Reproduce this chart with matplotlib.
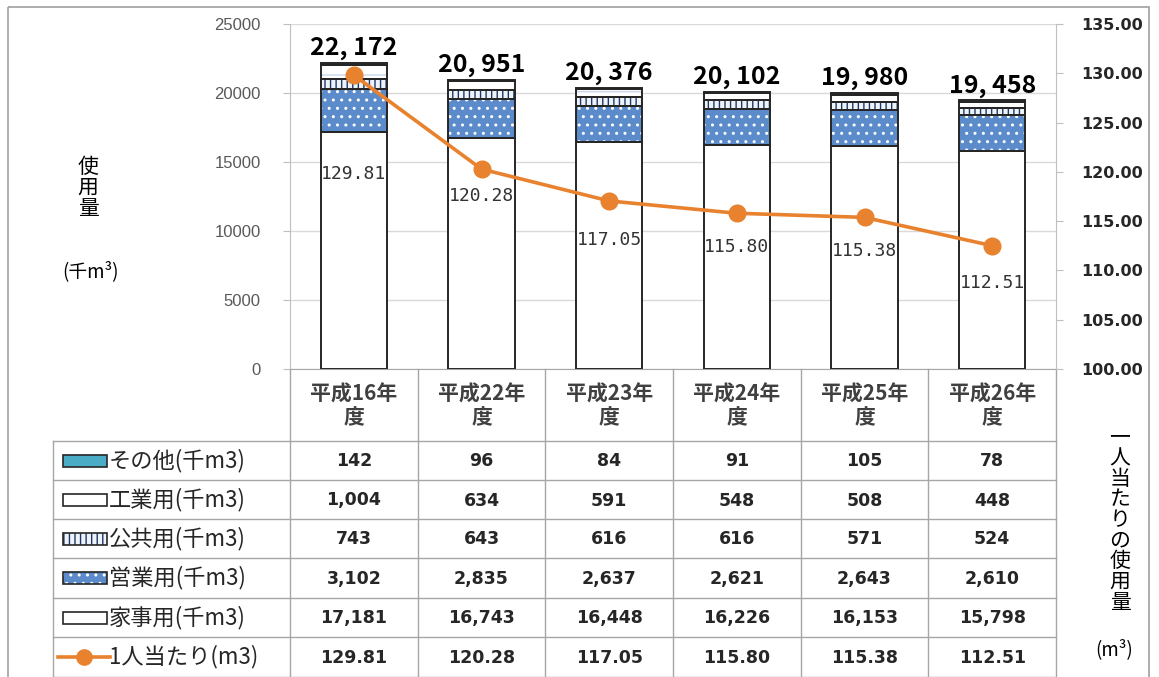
import numpy as np
import matplotlib
matplotlib.use("Agg")
import matplotlib.pyplot as plt
from matplotlib.patches import Rectangle
from matplotlib.lines import Line2D

plt.rcParams["font.family"] = ["Noto Sans CJK JP", "DejaVu Sans"]
plt.rcParams["hatch.linewidth"] = 1.0

# ── data ─────────────────────────────────────────────────────────────────────
years = ["平成16年\n度", "平成22年\n度", "平成23年\n度", "平成24年\n度", "平成25年\n度", "平成26年\n度"]
kaji    = [17181, 16743, 16448, 16226, 16153, 15798]   # 家事用
eigyo   = [3102, 2835, 2637, 2621, 2643, 2610]         # 営業用
kokyo   = [743, 643, 616, 616, 571, 524]               # 公共用
kogyo   = [1004, 634, 591, 548, 508, 448]              # 工業用
sonota  = [142, 96, 84, 91, 105, 78]                   # その他
per_cap = [129.81, 120.28, 117.05, 115.80, 115.38, 112.51]
totals  = [22172, 20951, 20376, 20102, 19980, 19458]

# ── style ────────────────────────────────────────────────────────────────────
ORANGE = "#E8822E"
BLUE   = "#5B8BCB"
TEAL   = "#4BACC6"
GRID   = "#D9D9D9"
TLINE  = "#A6A6A6"
W, H = 1159, 677

fig = plt.figure(figsize=(W / 100, H / 100), dpi=100, facecolor="white")

# overlay axes in pixel coords for the data table and the frame
tax = fig.add_axes([0, 0, 1, 1])
tax.set_xlim(0, W)
tax.set_ylim(H, 0)
tax.axis("off")

L, R, T, B = 290, 1056, 24, 369
ax = fig.add_axes([L / W, 1 - B / H, (R - L) / W, (B - T) / H])
ax.set_facecolor("none")
x = np.arange(len(years))
bw = 0.52

# series: (values, face, hatch, hatch colour, legend label)
series = [
    (kaji,   "white",   None,  "white",   "家事用(千m3)"),
    (eigyo,  BLUE,      "..",  "white",   "営業用(千m3)"),
    (kokyo,  "#EEF3FA", "|||", "#1F3864", "公共用(千m3)"),
    (kogyo,  "white",   "-",   "#C9D6EA", "工業用(千m3)"),
    (sonota, TEAL,      None,  TEAL,      "その他(千m3)"),
]
bottom = np.zeros(len(years))
for vals, face, hatch, hc, lab in series:
    ax.bar(x, vals, bw, bottom=bottom, color=face, edgecolor=hc,
           hatch=hatch, linewidth=0, zorder=2)
    ax.bar(x, vals, bw, bottom=bottom, facecolor="none",
           edgecolor="#262626", linewidth=1.4, zorder=3)
    bottom += np.array(vals)

for xi, tot in zip(x, totals):
    ax.annotate(f"{tot:,}".replace(",", ", "), (xi, tot), xytext=(0, 2),
                textcoords="offset points", ha="center", va="bottom",
                fontsize=18, fontweight="bold", color="black")

ax.set_xlim(-0.5, len(years) - 0.5)
ax.set_ylim(0, 25000)
ax.set_yticks(np.arange(0, 25001, 5000))
ax.yaxis.grid(True, color=GRID, linewidth=1)
ax.set_axisbelow(True)
ax.set_xticks([])
for s in ["top", "right"]:
    ax.spines[s].set_visible(False)
ax.spines["left"].set_color("#BFBFBF")
ax.spines["bottom"].set_color(TLINE)
ax.tick_params(axis="y", length=5, color="#BFBFBF", pad=16,
               labelsize=12, labelcolor="#595959")
for t in ax.get_yticklabels():
    t.set_family(["Liberation Sans", "DejaVu Sans"])

# per-capita line on the right axis
ax2 = ax.twinx()
ax2.plot(x, per_cap, color=ORANGE, linewidth=2.6, marker="o",
         markersize=12, zorder=5)
ax2.set_ylim(100, 135)
ax2.set_yticks(np.arange(100, 135.01, 5))
ax2.set_yticklabels([f"{v:.2f}" for v in np.arange(100, 135.01, 5)])
for s in ["top", "left", "bottom"]:
    ax2.spines[s].set_visible(False)
ax2.spines["right"].set_color("#BFBFBF")
ax2.tick_params(axis="y", length=5, color="#BFBFBF", pad=13, labelsize=11.5)
for t in ax2.get_yticklabels():
    t.set_fontweight("bold")
    t.set_family(["DejaVu Sans"])
    t.set_color("#262626")

label_drop = [99, 27, 39, 34, 34, 37]
for xi, v, d in zip(x, per_cap, label_drop):
    ax2.annotate(f"{v:.2f}", (xi, v), xytext=(0, -d * 0.72),
                 textcoords="offset points", ha="center", va="center",
                 fontsize=13, color="#333333", family="DejaVu Sans Mono",
                 zorder=6)

# axis titles
tax.text(88, 188, "使\n用\n量", ha="center", va="center", fontsize=15,
         linespacing=0.95)
tax.text(90, 272, "(千m³)", ha="center", va="center", fontsize=13.5)
tax.text(1120, 520, "一\n人\n当\nた\nり\nの\n使\n用\n量", ha="center",
         va="center", fontsize=15, linespacing=0.92)
tax.text(1114, 650, "(m³)", ha="center", va="center", fontsize=13.5)

# ── data table ───────────────────────────────────────────────────────────────
col_w = (R - L) / len(years)
row_edges = [441, 480, 519, 558, 598, 637, 677]
leg_left = 53
for xe in [L + col_w * i for i in range(len(years) + 1)]:
    tax.plot([xe, xe], [B, H], color=TLINE, lw=1)
tax.plot([leg_left, leg_left], [row_edges[0], H], color=TLINE, lw=1)
for ye in row_edges:
    tax.plot([leg_left, R], [ye, ye], color=TLINE, lw=1)

for i, lab in enumerate(years):
    tax.text(L + col_w * (i + 0.5), (B + row_edges[0]) / 2 + 1, lab,
             ha="center", va="center", fontsize=15, fontweight="bold",
             color="#404040", linespacing=1.15)

rows = [
    (sonota,  "その他(千m3)", "int"),
    (kogyo,   "工業用(千m3)", "int"),
    (kokyo,   "公共用(千m3)", "int"),
    (eigyo,   "営業用(千m3)", "int"),
    (kaji,    "家事用(千m3)", "int"),
    (per_cap, "1人当たり(m3)", "float"),
]
styles = {lab: (face, hatch, hc) for _, face, hatch, hc, lab in series}
for r, (vals, lab, kind) in enumerate(rows):
    yc = (row_edges[r] + row_edges[r + 1]) / 2
    if lab in styles:
        face, hatch, hc = styles[lab]
        tax.add_patch(Rectangle((63, yc - 6), 44, 12, facecolor=face,
                                edgecolor=hc, hatch=hatch, linewidth=0))
        tax.add_patch(Rectangle((63, yc - 6), 44, 12, facecolor="none",
                                edgecolor="#262626", linewidth=1.2))
    else:
        tax.add_line(Line2D([58, 110], [yc, yc], color=ORANGE, lw=2.6))
        tax.add_line(Line2D([84], [yc], color=ORANGE, marker="o",
                            markersize=11))
    tax.text(109, yc, lab, ha="left", va="center", fontsize=16,
             color="#262626")
    for i, v in enumerate(vals):
        s = f"{v:.2f}" if kind == "float" else f"{v:,}"
        tax.text(L + col_w * (i + 0.5), yc + 1, s, ha="center", va="center",
                 fontsize=12.5, fontweight="bold", color="#262626",
                 family=["DejaVu Sans"])

# outer frame
tax.add_patch(Rectangle((8, 7), 1141, 700, facecolor="none",
                        edgecolor="#A0A0A0", linewidth=1.2))

fig.savefig("out.png", dpi=100)
